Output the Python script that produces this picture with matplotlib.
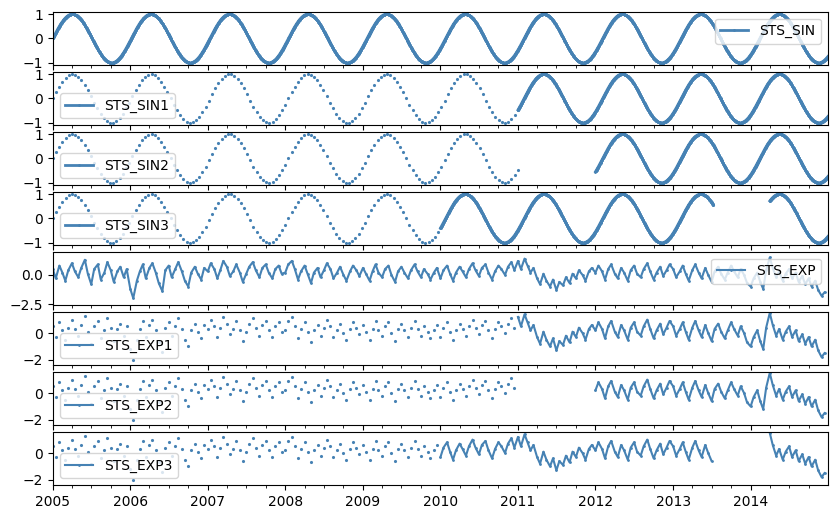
import numpy as np
import pandas as pd
import matplotlib
matplotlib.use("Agg")
import matplotlib.pyplot as plt
import matplotlib.dates as mdates

# sine series: period (~370 days), starts at 0 rising on 2005-01-01
sin_period_days = 370
days = pd.date_range("2005-01-01", "2014-12-31", freq="D")
sin_vals = np.sin(2 * np.pi * np.arange(len(days)) / sin_period_days)

# noisy series, semimonthly values
exp_vals = [
    0.5,-0.3,0.8,0.2,-0.5,0.4,1.0,0.3,-0.2,0.6,1.3,0.1,-0.8,0.5,0.9,-0.4,0.2,1.1,0.4,-0.6,0.3,0.7,-0.2,0.5,
    -1.2,-2.0,-0.5,0.3,0.9,-0.3,0.6,1.0,0.2,-0.7,-1.4,0.4,0.8,-0.2,0.5,1.1,0.3,-0.5,-1.0,0.2,0.7,0.1,-0.4,0.6,
    0.3,1.0,0.5,-0.3,0.4,1.2,0.7,-0.1,0.3,0.9,0.2,-0.6,0.1,0.7,1.1,0.4,-0.2,0.6,0.9,0.2,-0.3,0.5,0.8,0.1,
    0.2,0.9,1.2,0.5,-0.4,0.3,0.8,0.1,-0.7,0.2,0.6,-0.2,0.4,1.0,0.5,-0.3,0.2,0.7,0.0,-0.5,0.3,0.8,0.4,-0.1,
    0.6,0.1,-0.5,0.3,0.9,0.2,-0.2,0.5,0.8,0.0,-0.6,0.3,0.7,0.2,-0.3,0.4,0.9,0.3,-0.2,0.5,0.1,-0.4,0.2,0.6,
    -0.3,0.4,0.8,0.1,-0.5,0.2,0.7,0.3,-0.2,0.5,1.0,0.4,-0.1,0.6,0.9,0.2,-0.4,0.3,0.8,0.5,0.0,0.7,1.1,0.4,
    1.2,0.5,1.4,0.8,0.2,0.6,-0.3,-0.8,0.1,-0.5,-1.0,-0.4,-1.3,-0.6,-0.9,-0.2,-0.7,0.1,-0.3,0.4,0.0,-0.5,0.3,0.6,
    0.2,0.8,0.3,-0.4,0.5,0.9,0.1,-0.3,0.6,0.2,-0.5,0.4,0.8,0.1,-0.2,0.5,1.0,0.3,-0.4,0.2,0.7,-0.1,0.4,0.9,
    0.5,-0.2,0.3,0.8,0.1,-0.5,0.4,0.9,0.2,-0.3,0.6,0.0,-0.6,0.3,0.7,0.1,-0.4,0.2,0.8,0.3,-0.2,0.5,0.0,-0.7,
    -1.0,-0.3,0.2,-0.6,-1.2,0.4,1.5,0.6,-0.2,0.3,-0.5,0.1,0.5,-0.3,0.2,-0.6,-0.1,-0.8,-0.3,-1.0,-0.5,-1.3,-1.8,-1.5,
]
exp_dates = pd.date_range("2005-01-01", periods=len(exp_vals), freq="SMS")
exp_s = pd.Series(exp_vals, index=exp_dates)
sin_s = pd.Series(sin_vals, index=days)

# (sparse until, gap start, gap end) for the variants
variants = {
    "1": ("2011-01-01", None, None),
    "2": ("2011-01-01", "2011-01-01", "2012-01-01"),
    "3": ("2010-01-01", "2013-07-10", "2014-04-01"),
}

color = "steelblue"
fig, axes = plt.subplots(8, 1, figsize=(8.38, 5.08), dpi=100, sharex=True)
fig.subplots_adjust(left=0.063, right=0.988, top=0.977, bottom=0.045, hspace=0.12)


def draw(ax, s, label, sparse_until=None, gap0=None, gap1=None, sparse_step=1, lw=1.5):
    dense = s.copy()
    if sparse_until is not None:
        sp = s[s.index < sparse_until].iloc[::sparse_step]
        ax.plot(sp.index, sp.values, ".", color=color, ms=2.5)
        dense = s[s.index >= sparse_until]
    if gap0 is not None:
        dense = dense.copy()
        dense[(dense.index >= gap0) & (dense.index < gap1)] = np.nan
    ax.plot(dense.index, dense.values, "-", marker=".", ms=2, color=color, lw=lw, label=label)


draw(axes[0], sin_s, "STS_SIN", lw=2)
axes[0].legend(loc="upper right")
for i, (k, (su, g0, g1)) in enumerate(variants.items()):
    draw(axes[1 + i], sin_s, "STS_SIN" + k, su, g0, g1, sparse_step=15, lw=2)
    axes[1 + i].legend(loc="lower left")
for ax in axes[:4]:
    ax.set_ylim(-1.1, 1.1)
    ax.set_yticks([-1, 0, 1])

draw(axes[4], exp_s, "STS_EXP")
axes[4].legend(loc="upper right")
axes[4].set_ylim(-2.6, 2.0)
axes[4].set_yticks([-2.5, 0.0])
for i, (k, (su, g0, g1)) in enumerate(variants.items()):
    ax = axes[5 + i]
    draw(ax, exp_s, "STS_EXP" + k, su, g0, g1)
    ax.legend(loc="lower left")
    ax.set_ylim(-2.4, 1.6)
    ax.set_yticks([-2, 0])

ax = axes[-1]
ax.set_xlim(pd.Timestamp("2005-01-01"), pd.Timestamp("2014-12-31"))
ax.xaxis.set_major_locator(mdates.YearLocator())
ax.xaxis.set_major_formatter(mdates.DateFormatter("%Y"))
ax.xaxis.set_minor_locator(mdates.MonthLocator(bymonth=[4, 7, 10]))

fig.savefig("out.png", dpi=100)
